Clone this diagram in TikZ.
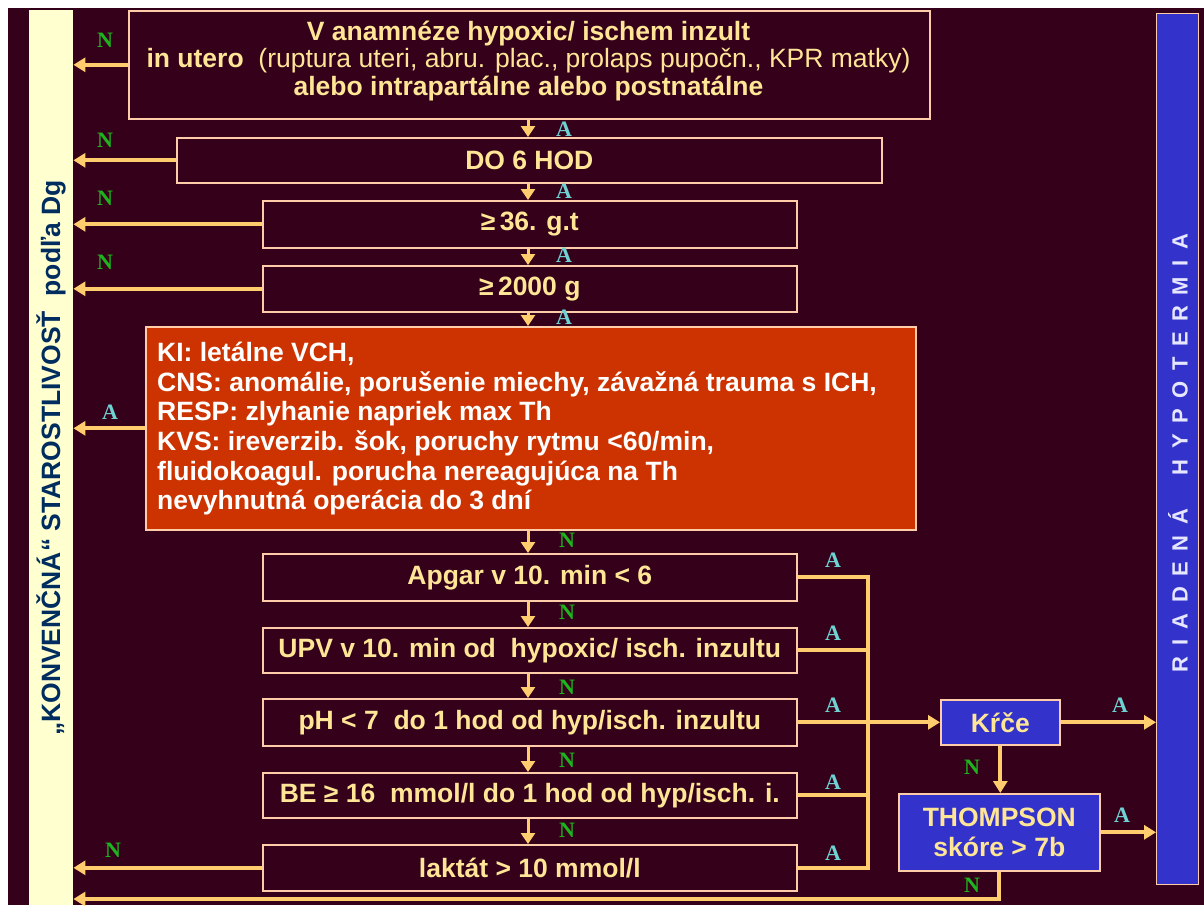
\documentclass[tikz,border=0pt]{standalone}
\usepackage{fontspec}
\setmainfont{Liberation Sans}
\newfontfamily\serifb{Liberation Serif}
\usetikzlibrary{arrows.meta}
\definecolor{bg}{RGB}{52,0,26}
\definecolor{boxline}{RGB}{255,204,170}
\definecolor{txt}{RGB}{255,230,150}
\definecolor{connc}{RGB}{255,204,110}
\definecolor{kiorange}{RGB}{204,51,0}
\definecolor{barcream}{RGB}{255,255,208}
\definecolor{barblue}{RGB}{51,51,204}
\definecolor{navy}{RGB}{0,45,95}
\definecolor{lblAc}{RGB}{110,210,210}
\definecolor{lblNc}{RGB}{30,180,30}
\definecolor{bartext}{RGB}{230,230,255}
\begin{document}
\begin{tikzpicture}[x=1pt,y=-1pt,
  box/.style={draw=boxline, line width=1.6pt, fill=bg, text=txt,
    font=\fontsize{26.5}{29}\selectfont\bfseries, anchor=north west,
    inner sep=0pt, align=center},
  bluebox/.style={box, fill=barblue},
  conn/.style={draw=connc, line width=4pt},
  arr/.style={conn, -{Triangle[width=14pt,length=12pt]}},
  darr/.style={conn, line width=3pt, -{Triangle[width=14pt,length=11pt]}},
  lblA/.style={text=lblAc, font=\serifb\fontsize{22}{22}\selectfont\bfseries, inner sep=0pt},
  lblN/.style={text=lblNc, font=\serifb\fontsize{22}{22}\selectfont\bfseries, inner sep=0pt}
]
\useasboundingbox (0,0) rectangle (1204,905);
\fill[white] (0,0) rectangle (1204,905);
\fill[bg] (8,8) rectangle (1204,905);

% side bars
\node[draw=none, fill=barcream, anchor=north west, minimum width=44pt, minimum height=895pt, inner sep=0pt] (lbar) at (29,10) {};
\node[draw=boxline, line width=1.2pt, fill=barblue, anchor=north west, minimum width=42pt, minimum height=871pt, inner sep=0pt] (rbar) at (1156,13) {};
\node[rotate=90, text=navy, font=\fontsize{26.5}{26.5}\selectfont\bfseries, inner sep=0pt] (ltext) at (51,458) {„KONVENČNÁ“ STAROSTLIVOSŤ \ podľa Dg};
\node[rotate=90, text=bartext, font=\fontsize{22}{22}\selectfont\bfseries\addfontfeature{LetterSpace=48}, inner sep=0pt] (rtext) at (1178,453) {RIADENÁ \ HYPOTERMIA};

% boxes
\node[box, minimum width=801pt, minimum height=108pt] (top) at (128,10) {};
\node[text=txt, font=\fontsize{26.5}{27.5}\selectfont, align=center, inner sep=0pt] (toptext) at (528.5,61)
  {\textbf{V anamnéze hypoxic/ ischem inzult}\\
   \textbf{in utero} \ (ruptura uteri, abru. plac., prolaps pupočn., KPR matky)\\
   \textbf{alebo intrapartálne alebo postnatálne}};
\node[box, minimum width=705pt, minimum height=45pt] (do6) at (176,137) {DO 6 HOD};
\node[box, minimum width=534pt, minimum height=47pt] (gt) at (262,200) {≥\,36. g.t};
\node[box, minimum width=534pt, minimum height=46pt] (g2000) at (262,265) {≥\,2000 g};
\node[box, fill=kiorange, minimum width=770pt, minimum height=203pt] (ki) at (145,326) {};
\node[text=white, font=\fontsize{26.5}{29.6}\selectfont\bfseries, align=left, anchor=north west, inner sep=0pt] (kitext) at (157,342)
  {KI: letálne VCH,\\
   CNS: anomálie, porušenie miechy, závažná trauma s ICH,\\
   RESP: zlyhanie napriek max Th\\
   KVS: ireverzib. šok, poruchy rytmu <60/min,\\
   fluidokoagul. porucha nereagujúca na Th\\
   nevyhnutná operácia do 3 dní};
\node[box, minimum width=534pt, minimum height=47pt] (apgar) at (262,553) {Apgar v 10. min < 6};
\node[box, minimum width=534pt, minimum height=45pt] (upv) at (262,627) {UPV v 10. min od \ hypoxic/ isch. inzultu};
\node[box, minimum width=534pt, minimum height=47pt] (ph) at (262,698) {pH < 7 \ do 1 hod od hyp/isch. inzultu};
\node[box, minimum width=534pt, minimum height=45pt] (be) at (262,772) {BE ≥ 16 \ mmol/l do 1 hod od hyp/isch. i.};
\node[box, minimum width=534pt, minimum height=46pt] (lak) at (262,844) {laktát > 10 mmol/l};
\node[bluebox, minimum width=119pt, minimum height=45pt] (krce) at (940,699) {Kŕče};
\node[bluebox, minimum width=201pt, minimum height=77pt, font=\fontsize{26.5}{30}\selectfont\bfseries] (thom) at (898,793) {THOMPSON\\skóre > 7b};

% helper coordinates
\coordinate (ax) at (528,0);
\coordinate (bus) at (868,0);
\coordinate (bot) at (0,899);

% N / A exits to the left bar
\draw[arr] (top.west) -- (top.west -| lbar.east);
\draw[arr] (do6.west) -- (do6.west -| lbar.east);
\draw[arr] (gt.west) -- (gt.west -| lbar.east);
\draw[arr] (g2000.west) -- (g2000.west -| lbar.east);
\draw[arr] (ki.west) -- (ki.west -| lbar.east);
\draw[arr] (lak.west) -- (lak.west -| lbar.east);

% vertical chain
\draw[darr] (top.south -| ax) -- (do6.north -| ax);
\draw[darr] (do6.south -| ax) -- (gt.north -| ax);
\draw[darr] (gt.south -| ax) -- (g2000.north -| ax);
\draw[darr] (g2000.south -| ax) -- (ki.north -| ax);
\draw[darr] (ki.south -| ax) -- (apgar.north -| ax);
\draw[darr] (apgar.south -| ax) -- (upv.north -| ax);
\draw[darr] (upv.south -| ax) -- (ph.north -| ax);
\draw[darr] (ph.south -| ax) -- (be.north -| ax);
\draw[darr] (be.south -| ax) -- (lak.north -| ax);

% right bus
\draw[conn] (apgar.east) -- (apgar.east -| bus);
\draw[conn] (upv.east) -- (upv.east -| bus);
\draw[conn] (be.east) -- (be.east -| bus);
\draw[conn] (lak.east) -- (lak.east -| bus);
\draw[conn, line cap=rect] (apgar.east -| bus) -- (lak.east -| bus);
\draw[arr] (ph.east) -- (krce.west);
\draw[arr] (krce.east) -- (krce.east -| rbar.west);
\draw[arr] (krce.south) -- (krce.south |- thom.north);
\draw[arr] (thom.east) -- (thom.east -| rbar.west);
\draw[arr] (thom.south) -- (thom.south |- bot) -- (bot -| lbar.east);

% labels
\node[lblN] (n1) at (105,40) {N};
\node[lblN] (n2) at (105,140) {N};
\node[lblN] (n3) at (105,198) {N};
\node[lblN] (n4) at (105,262) {N};
\node[lblA] (a5) at (110,412) {A};
\node[lblN] (n6) at (113,850) {N};
\node[lblA] (m1) at (564,129) {A};
\node[lblA] (m2) at (564,191) {A};
\node[lblA] (m3) at (564,255) {A};
\node[lblA] (m4) at (564,317) {A};
\node[lblN] (m5) at (567,540) {N};
\node[lblN] (m6) at (567,612) {N};
\node[lblN] (m7) at (567,687) {N};
\node[lblN] (m8) at (567,760) {N};
\node[lblN] (m9) at (567,830) {N};
\node[lblA] (r1) at (833,560) {A};
\node[lblA] (r2) at (833,633) {A};
\node[lblA] (r3) at (833,705) {A};
\node[lblA] (r4) at (833,782) {A};
\node[lblA] (r5) at (833,853) {A};
\node[lblA] (k1) at (1120,705) {A};
\node[lblA] (k2) at (1122,815) {A};
\node[lblN] (k3) at (972,767) {N};
\node[lblN] (k4) at (972,885) {N};
\end{tikzpicture}
\end{document}
